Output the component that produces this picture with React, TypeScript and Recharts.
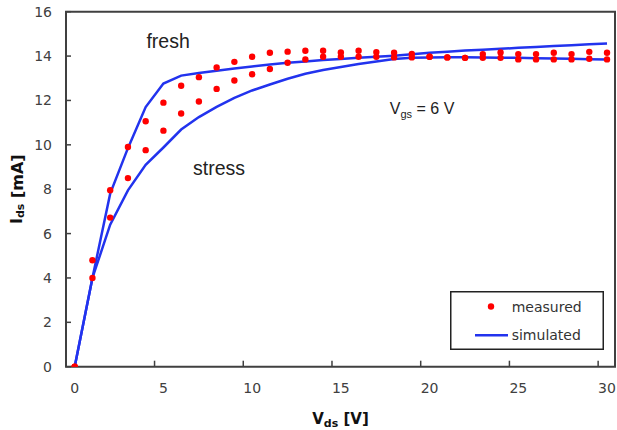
import React from 'react';
import {
  ComposedChart,
  Line,
  XAxis,
  YAxis,
  ReferenceArea,
  ReferenceDot,
  Legend,
} from 'recharts';

// ---- data ----
const vds = [0, 1, 2, 3, 4, 5, 6, 7, 8, 9, 10, 11, 12, 13, 14, 15, 16, 17, 18, 19, 20, 21, 22, 23, 24, 25, 26, 27, 28, 29, 30];
const freshMeasured = [0, 4.8, 7.95, 9.9, 11.06, 11.9, 12.66, 13.05, 13.49, 13.74, 13.97, 14.15, 14.2, 14.24, 14.24, 14.16, 14.24, 14.18, 14.15, 14.1, 13.97, 13.94, 13.92, 14.09, 14.16, 14.09, 14.09, 14.15, 14.09, 14.19, 14.15];
const stressMeasured = [0, 4.0, 6.72, 8.5, 9.76, 10.64, 11.41, 11.95, 12.52, 12.9, 13.18, 13.42, 13.7, 13.85, 13.97, 13.97, 13.97, 13.97, 13.94, 13.94, 13.97, 13.94, 13.92, 13.92, 13.92, 13.85, 13.85, 13.85, 13.85, 13.88, 13.85];
const freshSimulated = [0, 4.0, 7.8, 9.85, 11.7, 12.76, 13.12, 13.24, 13.34, 13.44, 13.53, 13.62, 13.7, 13.76, 13.82, 13.87, 13.92, 13.97, 14.02, 14.08, 14.15, 14.2, 14.25, 14.29, 14.33, 14.37, 14.41, 14.45, 14.49, 14.53, 14.57];
const stressSimulated = [0, 4.0, 6.4, 7.95, 9.1, 9.88, 10.69, 11.25, 11.71, 12.12, 12.45, 12.72, 12.98, 13.2, 13.37, 13.51, 13.64, 13.76, 13.87, 13.92, 13.94, 13.95, 13.95, 13.94, 13.93, 13.92, 13.9, 13.89, 13.88, 13.86, 13.85];
const xTicks = [0, 5, 10, 15, 20, 25, 30];
const yTicks = [0, 2, 4, 6, 8, 10, 12, 14, 16];
const legendLabels = ['measured', 'simulated'];

const data = vds.map((v, i) => ({
  vds: v,
  freshMeasured: freshMeasured[i],
  stressMeasured: stressMeasured[i],
  freshSimulated: freshSimulated[i],
  stressSimulated: stressSimulated[i],
}));

// ---- styles ----
const X_DOMAIN: [number, number] = [-0.49, 30.45];
const Y_DOMAIN: [number, number] = [0, 16];
const AXIS = '#404040';
const BLUE = '#2233ee';
const RED = '#ff0000';
const TICK_FONT = '"DejaVu Sans", Verdana, sans-serif';
const NOTE_FONT = '"Liberation Sans", Arial, sans-serif';

const XTick = (props: any) => {
  const { x, y, payload, width } = props;
  const w = typeof width === 'number' && width > 0 ? width : 549;
  const half = (w / (X_DOMAIN[1] - X_DOMAIN[0])) * 0.5;
  const tx = x - half;
  return (
    <g>
      <line x1={tx} x2={tx} y1={y} y2={y - 6} stroke={AXIS} strokeWidth={1.5} />
      <text x={x} y={y + 26.3} textAnchor="middle" fill={AXIS} fontSize={14} fontFamily={TICK_FONT}>
        {payload.value}
      </text>
    </g>
  );
};

const YTick = (props: any) => {
  const { x, y, payload } = props;
  return (
    <g>
      <line x1={x} x2={x + 5} y1={y} y2={y} stroke={AXIS} strokeWidth={1.5} />
      <text x={x - 14} y={y} dy={5} textAnchor="end" fill={AXIS} fontSize={14} fontFamily={TICK_FONT}>
        {payload.value}
      </text>
    </g>
  );
};

const XTitle = (props: any) => {
  const vb = props.viewBox || { x: 66, y: 366.7, width: 549, height: 43.3 };
  const cx = vb.x + vb.width / 2;
  const by = vb.y + 57.3;
  return (
    <text x={cx} y={by} textAnchor="middle" fill="#111" fontSize={15} fontWeight="bold" fontFamily={TICK_FONT}>
      V<tspan fontSize={11} dy={3}>ds</tspan>
      <tspan dy={-3}> [V]</tspan>
    </text>
  );
};

const YTitle = (props: any) => {
  const vb = props.viewBox || { x: 8, y: 11.7, width: 58, height: 355 };
  const cx = vb.x + 9;
  const cy = vb.y + vb.height / 2;
  return (
    <text
      x={cx}
      y={cy}
      transform={`rotate(-90, ${cx}, ${cy})`}
      textAnchor="middle"
      dominantBaseline="central"
      fill="#111"
      fontSize={16}
      fontWeight="bold"
      fontFamily={TICK_FONT}
    >
      I<tspan fontSize={11} dy={3}>ds</tspan>
      <tspan dy={-3}> [mA]</tspan>
    </text>
  );
};

const LegendBox = () => (
  <svg width={154} height={59}>
    <rect x={0.75} y={0.75} width={152.5} height={57.5} fill="#fff" stroke="#222" strokeWidth={1.5} />
    <circle cx={41} cy={15.5} r={3.2} fill={RED} />
    <text x={61.7} y={15.5} dy={5} fill="#333" fontSize={14} fontFamily={TICK_FONT}>
      {legendLabels[0]}
    </text>
    <line x1={25} x2={58} y1={44.3} y2={44.3} stroke={BLUE} strokeWidth={2.5} />
    <text x={61.7} y={44.3} dy={5} fill="#333" fontSize={14} fontFamily={TICK_FONT}>
      {legendLabels[1]}
    </text>
  </svg>
);

const noteShape = (content: React.ReactNode, size: number) => (p: any) => (
  <text x={p.cx} y={p.cy} fill="#222" fontSize={size} fontFamily={NOTE_FONT}>
    {content}
  </text>
);

const dotStyle = { r: 3.2, fill: RED, stroke: 'none', strokeWidth: 0 };

export default function App() {
  return (
    <div style={{ position: 'absolute', left: 0, top: 0, width: 617, height: 430, background: '#fff' }}>
      <ComposedChart
        width={617}
        height={430}
        data={data}
        margin={{ top: 11.7, right: 2, bottom: 20, left: 8 }}
      >
        <XAxis
          dataKey="vds"
          type="number"
          domain={X_DOMAIN}
          ticks={xTicks}
          interval={0}
          allowDataOverflow
          axisLine={false}
          tickLine={false}
          tickSize={0}
          tickMargin={0}
          tick={<XTick />}
          height={43.3}
          label={{ content: XTitle } as any}
        />
        <YAxis
          type="number"
          domain={Y_DOMAIN}
          ticks={yTicks}
          interval={0}
          allowDataOverflow
          axisLine={false}
          tickLine={false}
          tickSize={0}
          tickMargin={0}
          tick={<YTick />}
          width={58}
          label={{ content: YTitle } as any}
        />
        <ReferenceArea
          x1={X_DOMAIN[0]}
          x2={X_DOMAIN[1]}
          y1={Y_DOMAIN[0]}
          y2={Y_DOMAIN[1]}
          fill="none"
          fillOpacity={0}
          stroke={AXIS}
          strokeWidth={2}
          ifOverflow="visible"
        />
        <Line
          dataKey="freshSimulated"
          name={legendLabels[1]}
          type="linear"
          stroke={BLUE}
          strokeWidth={2.5}
          dot={false}
          activeDot={false}
          isAnimationActive={false}
        />
        <Line
          dataKey="stressSimulated"
          type="linear"
          stroke={BLUE}
          strokeWidth={2.5}
          dot={false}
          activeDot={false}
          legendType="none"
          isAnimationActive={false}
        />
        <Line
          dataKey="freshMeasured"
          name={legendLabels[0]}
          stroke="none"
          strokeWidth={0}
          dot={dotStyle}
          activeDot={false}
          isAnimationActive={false}
        />
        <Line
          dataKey="stressMeasured"
          stroke="none"
          strokeWidth={0}
          dot={dotStyle}
          activeDot={false}
          legendType="none"
          isAnimationActive={false}
        />
        <ReferenceDot x={4.04} y={14.36} r={0} ifOverflow="visible" shape={noteShape('fresh', 19.5)} />
        <ReferenceDot x={6.67} y={8.63} r={0} ifOverflow="visible" shape={noteShape('stress', 19.5)} />
        <ReferenceDot
          x={17.76}
          y={11.37}
          r={0}
          ifOverflow="visible"
          shape={noteShape(
            <>
              V<tspan fontSize={11} dy={4}>gs</tspan>
              <tspan dy={-4}> = 6 V</tspan>
            </>,
            16
          )}
        />
        <Legend
          layout="vertical"
          align="center"
          verticalAlign="middle"
          wrapperStyle={{ position: 'absolute', left: 450, top: 291.2, width: 154, height: 59 }}
          content={() => <LegendBox />}
        />
      </ComposedChart>
    </div>
  );
}
